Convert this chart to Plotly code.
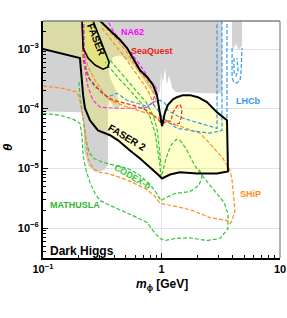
import math
import plotly.graph_objects as go

# ---------------- data (m_phi [GeV], theta) ----------------
# existing constraints (gray)
gray_m = [0.09, 3.24, 3.24, 2.33, 1.74, 1.33, 1.23, 1.16, 1.11, 1.07, 1.03, 0.99, 0.971, 0.916,
          0.832, 0.726, 0.621, 0.521, 0.447, 0.390, 0.354, 0.368, 0.413, 0.447, 0.397, 0.361,
          0.354, 0.354, 0.327, 0.275, 0.240, 0.222, 0.218, 0.09]
gray_theta = [4e-3, 4e-3, 1.82e-4, 1.82e-4, 1.89e-4, 1.89e-4, 2.2e-4, 3.65e-4, 2.5e-4, 4.8e-4, 2.8e-4, 4.1e-4, 2.05e-4, 1.5e-4,
              1.89e-4, 2.8e-4, 4.4e-4, 6.5e-4, 7.9e-4, 7.3e-4, 5.0e-4, 3.3e-4, 2.05e-4, 1.06e-4, 1.02e-4, 1.5e-4,
              9.4e-5, 1.12e-5, 9.3e-6, 8.6e-6, 1.12e-5, 2.0e-5, 8.7e-5, 9.0e-5]
gray2_m = [3.94, 4.78, 4.78, 4.51, 4.25, 4.01, 3.94]
gray2_theta = [4e-3, 4e-3, 1.17e-3, 9.6e-4, 1.21e-3, 9.6e-4, 1.17e-3]

# FASER 2
faser2_m = [0.09, 0.29, 0.303, 0.382, 0.447, 0.512, 0.574, 0.659, 0.755, 0.848, 0.916, 0.952, 1.01, 1.07,
            1.13, 1.25, 1.35, 1.52, 1.74, 2.03, 2.42, 2.94, 3.57, 3.64, 2.94, 2.00, 1.43, 1.18, 1.01,
            0.934, 0.800, 0.659, 0.542, 0.430, 0.368, 0.291, 0.249, 0.226, 0.218, 0.209, 0.205, 0.1, 0.09]
faser2_theta = [4e-3, 3.3e-3, 2.96e-3, 1.93e-3, 1.42e-3, 1.04e-3, 7.1e-4, 4.4e-4, 3.4e-4, 2.5e-4, 1.69e-4, 1.02e-4, 5.1e-5, 8.7e-5,
                1.15e-4, 1.44e-4, 1.56e-4, 1.69e-4, 1.69e-4, 1.56e-4, 1.29e-4, 8.7e-5, 6.4e-5, 8.9e-6, 8.2e-6, 8.2e-6, 8.6e-6, 7.9e-6, 6.8e-6,
                7.9e-6, 1.04e-5, 1.47e-5, 2.0e-5, 2.96e-5, 3.6e-5, 4.35e-5, 6.4e-5, 1.02e-4, 1.69e-4, 4.4e-4, 7.1e-4, 1.0e-3, 1.03e-3]

# FASER
faser_m = [0.213, 0.218, 0.240, 0.275, 0.321, 0.354, 0.361, 0.334, 0.303, 0.275, 0.259, 0.213]
faser_theta = [3.3e-3, 1.04e-3, 7.1e-4, 5.4e-4, 4.6e-4, 5.0e-4, 6.05e-4, 8.9e-4, 1.42e-3, 2.25e-3, 3.3e-3, 3.3e-3]

# NA62
na62_m = [0.218, 0.222, 0.226, 0.240, 0.264, 0.303, 0.421, 0.574, 0.755, 0.832, 0.881, 0.916, 0.881, 0.800,
          0.685, 0.574, 0.483, 0.397, 0.340]
na62_theta = [3.3e-3, 9.6e-4, 4.4e-4, 2.3e-4, 1.39e-4, 1.06e-4, 1.02e-4, 1.02e-4, 1.06e-4, 1.24e-4, 1.69e-4, 2.1e-4, 2.4e-4, 3.0e-4,
              4.8e-4, 7.9e-4, 1.21e-3, 1.93e-3, 3.3e-3]

# SeaQuest
seaquest_m = [0.213, 0.218, 0.240, 0.286, 0.315, 0.390, 0.574, 0.755, 0.848, 0.934, 1.01, 1.11, 1.20, 1.25,
              1.35, 1.43, 1.49, 1.46, 1.41, 1.25]
seaquest_theta = [3.3e-3, 6.5e-4, 3.4e-4, 2.3e-4, 1.82e-4, 1.39e-4, 1.15e-4, 9.4e-5, 7.8e-5, 6.7e-5, 5.5e-5, 6.2e-5, 6.2e-5, 8.7e-5,
                  1.10e-4, 1.19e-4, 9.8e-5, 6.9e-5, 5.7e-5, 5.5e-5]

# SHiP
ship_m = [0.1, 0.148, 0.194, 0.205, 0.218, 0.226, 0.235, 0.240, 0.264, 0.303, 0.354, 0.447, 0.574, 0.755,
          0.881, 0.971, 1.35, 1.84, 2.57, 3.57, 3.79, 3.94, 4.17, 4.09, 3.94, 3.79, 3.30, 2.57, 2.11, 1.52,
          1.11, 0.881, 0.755, 0.492, 0.368, 0.321, 0.275, 0.240, 0.226, 0.218, 0.213]
ship_theta = [2.4e-4, 2.2e-4, 1.89e-4, 1.39e-4, 7.2e-5, 3.6e-5, 2.0e-5, 1.47e-5, 1.0e-5, 8.6e-6, 8.2e-6, 7.1e-6, 5.8e-6, 4.4e-6,
              3.4e-6, 2.6e-6, 2.3e-6, 1.97e-6, 1.5e-6, 1.34e-6, 1.19e-6, 1.34e-6, 1.97e-6, 3.3e-6, 6.3e-6, 9.3e-6, 1.47e-5, 2.6e-5, 3.9e-5, 4.9e-5,
              5.9e-5, 7.5e-5, 8.4e-5, 1.1e-4, 1.39e-4, 1.89e-4, 3.0e-4, 5.0e-4, 7.9e-4, 1.42e-3, 3.3e-3]
ship_up1_m = [0.291, 0.368, 0.438, 0.501, 0.574, 0.659, 0.755, 0.832, 0.899]
ship_up1_theta = [3.19e-3, 1.93e-3, 1.31e-3, 9.25e-4, 6.3e-4, 4.1e-4, 3.0e-4, 2.13e-4, 1.39e-4]
ship_up2_m = [0.315, 0.354, 0.413, 0.483, 0.553, 0.633, 0.726, 0.800, 0.865]
ship_up2_theta = [2.25e-3, 1.65e-3, 1.12e-3, 7.6e-4, 5.2e-4, 3.5e-4, 2.4e-4, 1.69e-4, 1.15e-4]

# LHCb
lhcb_a_m = [0.222, 0.222, 0.231, 0.249, 0.275, 0.303, 0.347, 0.421, 0.512, 0.659, 0.755, 0.848, 0.971, 1.07,
            1.13, 1.43, 2.11, 2.94, 2.94]
lhcb_a_theta = [3.3e-3, 7.9e-4, 4.8e-4, 3.0e-4, 2.3e-4, 2.05e-4, 1.56e-4, 1.82e-4, 1.39e-4, 1.19e-4, 1.10e-4, 1.29e-4, 1.39e-4, 1.24e-4,
                9.4e-5, 7.2e-5, 5.7e-5, 4.7e-5, 3.3e-3]
lhcb_b_m = [0.848, 0.934, 1.03, 1.35, 1.92, 2.57, 3.24, 3.24]
lhcb_b_theta = [1.19e-4, 9.4e-5, 6.9e-5, 4.7e-5, 4.2e-5, 3.9e-5, 4.35e-5, 3.3e-3]
lhcb_c_m = [3.57, 3.57]
lhcb_c_theta = [3.3e-3, 6.4e-5]
lhcb_d_m = [3.94, 3.94, 4.09, 4.34, 4.60, 4.69, 4.78]
lhcb_d_theta = [1.04e-3, 3.3e-4, 2.8e-4, 2.7e-4, 3.0e-4, 4.1e-4, 1.04e-3]
lhcb_e_m = [4.09, 4.09, 4.25, 4.42, 4.34]
lhcb_e_theta = [7.1e-4, 4.1e-4, 3.5e-4, 4.4e-4, 7.1e-4]

# MATHUSLA
mathusla_m = [0.1, 0.139, 0.179, 0.205, 0.213, 0.218, 0.231, 0.249, 0.275, 0.303, 0.368, 0.464, 0.574, 0.755,
              0.848, 0.971, 1.07, 1.30, 1.74, 2.42, 3.12, 3.64, 3.64, 3.37, 2.72, 2.33, 2.03, 1.81, 1.61, 1.43,
              1.33, 1.20, 1.09, 1.03, 0.990, 0.971, 0.934, 0.881, 0.800, 0.685, 0.542, 0.430, 0.334]
mathusla_theta = [8.4e-5, 7.8e-5, 6.7e-5, 5.7e-5, 3.6e-5, 1.65e-5, 9.3e-6, 5.8e-6, 3.8e-6, 2.9e-6, 2.4e-6, 1.97e-6, 1.62e-6, 1.24e-6,
                  9.1e-7, 6.7e-7, 6.2e-7, 6.7e-7, 6.9e-7, 6.2e-7, 6.7e-7, 9.8e-7, 1.75e-6, 2.7e-6, 4.6e-6, 6.8e-6, 9.3e-6, 1.36e-5, 2.17e-5, 2.96e-5,
                  3.07e-5, 2.44e-5, 1.47e-5, 9.3e-6, 7.1e-6, 1.12e-5, 2.0e-5, 4.0e-5, 7.2e-5, 1.19e-4, 2.05e-4, 3.3e-4, 6.05e-4]

# CODEX-b
codex_m = [0.201, 0.205, 0.213, 0.222, 0.231, 0.245, 0.269, 0.321, 0.421, 0.521, 0.659, 0.800, 0.916, 0.990,
           1.11, 1.30, 1.74, 2.07, 2.20, 2.07]
codex_theta = [2.8e-4, 1.69e-4, 9.4e-5, 5.3e-5, 2.96e-5, 1.86e-5, 1.47e-5, 1.26e-5, 1.12e-5, 1.0e-5, 7.6e-6, 5.4e-6, 3.8e-6, 2.9e-6,
               3.3e-6, 3.8e-6, 4.1e-6, 5.2e-6, 7.3e-6, 1.0e-5]
codex_up_m = [0.368, 0.464, 0.597, 0.740, 0.848, 0.916, 0.952, 0.990]
codex_up_theta = [6.5e-4, 3.8e-4, 2.2e-4, 1.29e-4, 7.8e-5, 4.7e-5, 2.44e-5, 1.12e-5]

# axis ticks
x_major = [0.1, 1, 10]
x_major_text = ["<b>10<sup>−1</sup></b>", "<b>1</b>", "<b>10</b>"]
x_minor = [0.2, 0.3, 0.4, 0.5, 0.6, 0.7, 0.8, 0.9, 2, 3, 4, 5, 6, 7, 8, 9]
y_major = [1e-6, 1e-5, 1e-4, 1e-3]
y_major_text = ["<b>10<sup>−6</sup></b>", "<b>10<sup>−5</sup></b>", "<b>10<sup>−4</sup></b>", "<b>10<sup>−3</sup></b>"]
y_minor = [4e-7, 5e-7, 6e-7, 7e-7, 8e-7, 9e-7,
           2e-6, 3e-6, 4e-6, 5e-6, 6e-6, 7e-6, 8e-6, 9e-6,
           2e-5, 3e-5, 4e-5, 5e-5, 6e-5, 7e-5, 8e-5, 9e-5,
           2e-4, 3e-4, 4e-4, 5e-4, 6e-4, 7e-4, 8e-4, 9e-4,
           2e-3]

# ---------------- figure ----------------
GREEN = "#33c633"
ORANGE = "#ff8c1a"
RED = "#ff2020"
MAGENTA = "#ff22ff"
BLUE = "#3399ee"
DASH = "4px,2px"
FONT = "Liberation Sans, Arial, sans-serif"

fig = go.Figure()


def fill(m, t, color):
    fig.add_trace(go.Scatter(x=m, y=t, mode="lines", fill="toself", fillcolor=color,
                             line=dict(width=0, color="rgba(0,0,0,0)"), hoverinfo="skip"))


def dashed(m, t, color):
    fig.add_trace(go.Scatter(x=m, y=t, mode="lines",
                             line=dict(color=color, width=1.2, dash=DASH), hoverinfo="skip"))


def solid(m, t, color="black", width=2):
    fig.add_trace(go.Scatter(x=m + m[:1], y=t + t[:1], mode="lines",
                             line=dict(color=color, width=width), hoverinfo="skip"))


fill(gray_m, gray_theta, "#d2d2d2")
fill(gray2_m, gray2_theta, "#d2d2d2")
fill(faser2_m, faser2_theta, "rgba(255,255,0,0.2)")
fill(faser_m, faser_theta, "rgba(255,255,0,0.25)")

dashed(mathusla_m, mathusla_theta, GREEN)
dashed(codex_m, codex_theta, GREEN)
dashed(codex_up_m, codex_up_theta, GREEN)
dashed(ship_m, ship_theta, ORANGE)
dashed(ship_up1_m, ship_up1_theta, ORANGE)
dashed(ship_up2_m, ship_up2_theta, ORANGE)
dashed(lhcb_a_m, lhcb_a_theta, BLUE)
dashed(lhcb_b_m, lhcb_b_theta, BLUE)
dashed(lhcb_c_m, lhcb_c_theta, BLUE)
dashed(lhcb_d_m, lhcb_d_theta, BLUE)
dashed(lhcb_e_m, lhcb_e_theta, BLUE)
dashed(seaquest_m, seaquest_theta, RED)
dashed(na62_m, na62_theta, MAGENTA)

solid(faser2_m, faser2_theta)
solid(faser_m, faser_theta, width=1.6)

# labels: (text, m, theta, color, size, angle)
labels = [
    ("FASER", 0.280, 1.42e-3, "black", 10, 68),
    ("FASER 2", 0.512, 3.3e-5, "black", 10, 31),
    ("NA62", 0.574, 1.93e-3, "#ff00ff", 9, 0),
    ("SeaQuest", 0.832, 9.25e-4, "#f01818", 9, 0),
    ("LHCb", 5.37, 1.34e-4, BLUE, 9, 0),
    ("SHiP", 5.69, 3.8e-6, ORANGE, 9, 0),
    ("CODEX-b", 0.574, 7.1e-6, GREEN, 9, 30),
    ("MATHUSLA", 0.186, 2.4e-6, "#2cb82c", 9, 0),
    ("Dark Higgs", 0.213, 4.19e-7, "black", 12, 0),
]
for text, m, t, color, size, ang in labels:
    fig.add_annotation(x=math.log10(m), y=math.log10(t), xref="x", yref="y", text="<b>" + text + "</b>",
                       showarrow=False, textangle=ang, xanchor="center", yanchor="middle",
                       font=dict(size=size, color=color, family=FONT))

fig.add_annotation(x=0.502, y=-0.114, xref="paper", yref="paper", xanchor="center", yanchor="middle",
                   text="<b><i>m</i><sub>ϕ</sub> [GeV]</b>", showarrow=False,
                   font=dict(size=12, color="black", family=FONT))
fig.add_annotation(x=-0.152, y=0.468, xref="paper", yref="paper", xanchor="center", yanchor="middle",
                   text="<b><i>θ</i></b>", showarrow=False, textangle=-90,
                   font=dict(size=13, color="black", family=FONT))

fig.add_shape(type="line", xref="paper", yref="paper", x0=0, x1=1, y0=1, y1=1,
              line=dict(color="#808080", width=1.6), layer="above")
fig.add_shape(type="line", xref="paper", yref="paper", x0=1, x1=1, y0=0, y1=1,
              line=dict(color="#808080", width=1.2), layer="above")

axis_common = dict(type="log", ticks="inside", ticklen=5, tickwidth=1, tickcolor="black",
                   showline=True, linecolor="black", linewidth=2, mirror=False, automargin=False,
                   showgrid=True, gridcolor="#e4e4e4", gridwidth=1, zeroline=False,
                   tickfont=dict(size=11, color="black", family=FONT))

fig.update_xaxes(range=[-1, 1], tickmode="array", tickvals=x_major, ticktext=x_major_text,
                 minor=dict(tickmode="array", tickvals=x_minor, ticks="inside", ticklen=3,
                            tickwidth=1, tickcolor="black", showgrid=False),
                 **axis_common)
fig.update_yaxes(range=[-6.5, -2.53], tickmode="array", tickvals=y_major, ticktext=y_major_text,
                 minor=dict(tickmode="array", tickvals=y_minor, ticks="inside", ticklen=3,
                            tickwidth=1, tickcolor="black", showgrid=False),
                 **axis_common)

fig.update_layout(width=287, height=318, margin=dict(l=43, r=7, t=21, b=60, autoexpand=False),
                  paper_bgcolor="white", plot_bgcolor="white", showlegend=False,
                  font=dict(family=FONT, color="black"))

page_css = ("var s=document.createElement('style');"
            "s.textContent='html,body{margin:0;padding:0;overflow:hidden;width:287px;height:318px;}';"
            "document.head.appendChild(s);")
fig.write_html("out.html", config={"displayModeBar": False}, post_script=page_css)
